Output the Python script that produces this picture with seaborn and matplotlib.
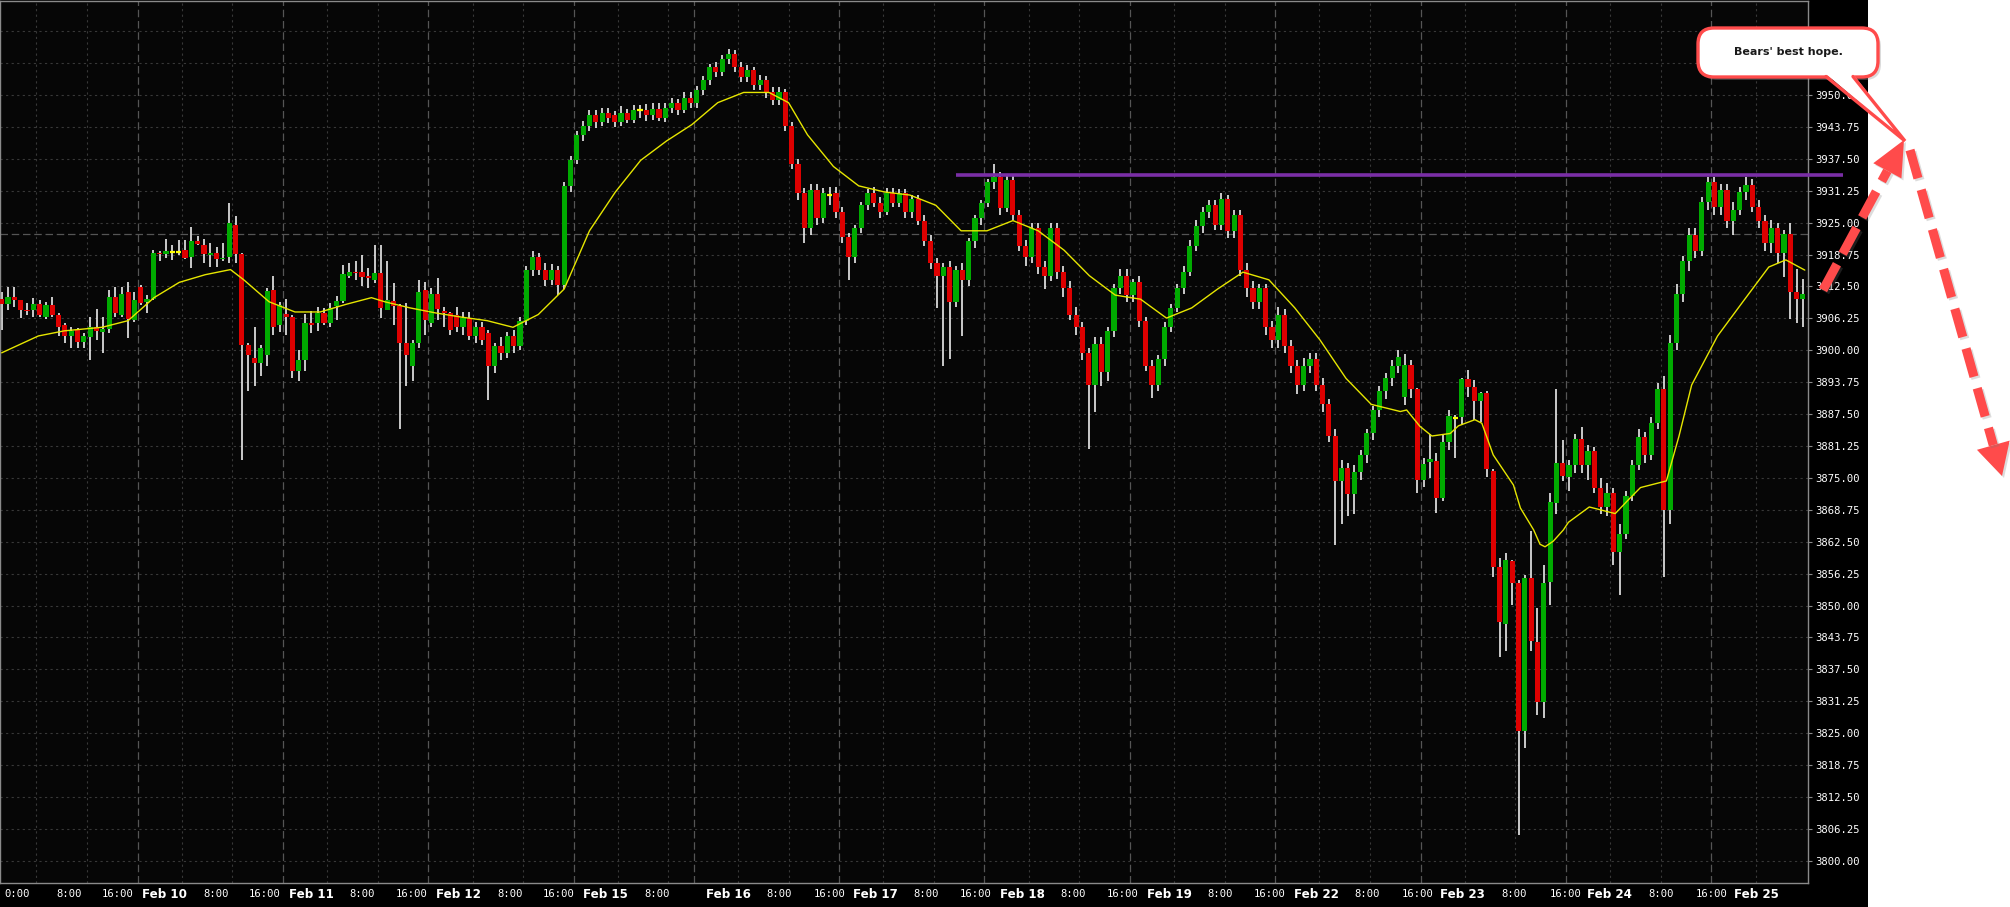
import numpy as np
import pandas as pd
import seaborn as sns
import matplotlib.pyplot as plt
from matplotlib.patches import FancyBboxPatch, Polygon, Rectangle

W, H = 2010, 907
PX = 6.32   # pixels per bar
X0 = 1.7    # pixel centre of bar 0

# ---- hourly candles: (open, high, low, close) ----------------------------
# bars 0-71
seg_a = [
    (3910.05, 3911.5, 3904.0, 3909.14), (3909.14, 3912.3, 3907.9, 3910.45), (3910.4, 3912.3, 3908.55, 3909.9),
    (3909.86, 3909.9, 3906.3, 3907.9), (3907.9, 3909.2, 3906.9, 3907.6), (3907.9, 3910.3, 3906.6, 3909.1),
    (3909.1, 3909.9, 3906.6, 3906.9), (3906.6, 3909.5, 3906.1, 3908.9), (3908.9, 3910.4, 3906.6, 3906.9),
    (3906.85, 3907.25, 3902.7, 3904.5), (3904.9, 3905.3, 3901.4, 3902.7), (3902.7, 3904.6, 3900.4, 3903.8),
    (3904.0, 3904.3, 3900.4, 3901.7), (3901.7, 3903.3, 3900.4, 3902.7), (3902.6, 3906.5, 3898.0, 3904.5),
    (3904.5, 3908.0, 3902.0, 3903.85), (3903.65, 3906.6, 3899.5, 3904.2), (3904.1, 3911.8, 3903.3, 3910.45),
    (3910.4, 3912.3, 3906.6, 3907.25), (3906.9, 3912.3, 3906.6, 3911.05), (3911.4, 3913.45, 3902.35, 3906.1),
    (3905.9, 3911.5, 3905.5, 3909.86), (3912.3, 3912.8, 3908.9, 3909.2), (3909.5, 3910.8, 3907.25, 3910.05),
    (3910.05, 3919.65, 3909.86, 3919.0), (3919.1, 3919.5, 3917.4, 3918.8), (3918.9, 3921.7, 3918.0, 3919.45),
    (3919.3, 3920.6, 3917.7, 3919.3), (3919.3, 3921.5, 3918.7, 3919.3), (3919.65, 3921.6, 3917.8, 3918.15),
    (3918.35, 3924.2, 3916.1, 3921.4), (3921.4, 3922.4, 3920.6, 3920.9), (3920.6, 3921.7, 3917.0, 3918.9),
    (3918.7, 3921.0, 3916.4, 3919.1), (3919.1, 3920.3, 3916.4, 3917.9), (3917.8, 3921.0, 3917.4, 3918.15),
    (3918.35, 3928.8, 3917.0, 3925.0), (3924.55, 3926.2, 3917.0, 3918.9), (3918.9, 3919.0, 3878.5, 3901.0),
    (3901.0, 3901.5, 3892.0, 3899.0), (3898.5, 3904.6, 3893.0, 3897.5), (3897.5, 3901.0, 3895.0, 3900.4),
    (3899.0, 3912.2, 3897.0, 3911.7), (3911.8, 3914.6, 3903.0, 3904.6), (3905.0, 3909.5, 3903.5, 3908.9),
    (3907.1, 3910.1, 3903.0, 3906.5), (3906.5, 3907.0, 3894.5, 3896.0), (3896.0, 3900.0, 3894.0, 3898.0),
    (3898.0, 3907.05, 3896.0, 3905.3), (3905.4, 3907.6, 3903.3, 3905.0), (3905.3, 3908.4, 3903.7, 3907.25),
    (3907.25, 3908.3, 3905.0, 3905.4), (3905.4, 3909.2, 3904.5, 3908.35), (3908.7, 3910.6, 3905.9, 3909.66),
    (3909.7, 3916.7, 3909.2, 3914.95), (3914.6, 3917.0, 3914.1, 3915.4), (3915.4, 3917.4, 3913.8, 3915.1),
    (3915.3, 3918.7, 3912.5, 3914.4), (3914.5, 3916.1, 3912.1, 3914.2), (3913.8, 3920.6, 3913.1, 3915.2),
    (3915.2, 3920.6, 3906.3, 3908.2), (3907.9, 3917.4, 3907.9, 3909.86), (3909.66, 3913.1, 3905.0, 3908.7),
    (3908.7, 3909.0, 3884.5, 3901.5), (3901.5, 3909.2, 3893.0, 3899.0), (3897.0, 3902.0, 3894.0, 3901.4),
    (3901.5, 3913.8, 3900.5, 3911.4), (3911.8, 3913.4, 3903.0, 3905.9), (3905.3, 3912.1, 3904.6, 3910.96),
    (3910.96, 3914.1, 3906.0, 3908.0), (3907.6, 3908.4, 3904.6, 3907.25), (3907.25, 3907.5, 3903.0, 3904.0),
]
# bars 72-221
seg_b = [
    (3907.0, 3908.5, 3903.5, 3904.5), (3904.5, 3907.5, 3903.0, 3906.3), (3906.3, 3907.5, 3902.0, 3902.8),
    (3902.8, 3905.5, 3901.5, 3904.5), (3904.5, 3905.5, 3901.0, 3902.0), (3903.3, 3904.0, 3890.2, 3897.0),
    (3897.0, 3901.5, 3895.5, 3900.8), (3900.8, 3902.5, 3898.0, 3899.5), (3899.5, 3903.5, 3898.5, 3902.8),
    (3902.8, 3904.0, 3899.5, 3900.8), (3900.8, 3906.5, 3900.0, 3905.8), (3905.8, 3916.5, 3905.0, 3915.8),
    (3915.8, 3919.5, 3914.5, 3918.3), (3918.3, 3919.0, 3914.8, 3915.8), (3915.8, 3917.0, 3912.5, 3913.8),
    (3913.8, 3916.8, 3912.8, 3915.8), (3915.8, 3916.5, 3910.8, 3912.8), (3912.8, 3933.0, 3912.0, 3932.2),
    (3932.2, 3938.0, 3931.0, 3937.2), (3937.2, 3943.0, 3936.5, 3942.2), (3942.2, 3945.0, 3941.0, 3944.0),
    (3944.0, 3947.0, 3943.0, 3946.0), (3946.0, 3947.0, 3943.5, 3944.7), (3944.7, 3947.5, 3944.0, 3946.5),
    (3946.5, 3947.5, 3944.5, 3945.5), (3946.0, 3946.8, 3943.8, 3944.7), (3944.7, 3947.8, 3944.0, 3946.5),
    (3946.5, 3947.3, 3944.5, 3945.2), (3945.2, 3948.0, 3944.5, 3947.0), (3947.0, 3948.0, 3945.5, 3947.0),
    (3947.0, 3948.2, 3945.0, 3946.0), (3946.0, 3948.5, 3945.2, 3947.2), (3947.2, 3948.5, 3945.0, 3945.5),
    (3945.5, 3948.5, 3944.8, 3947.5), (3947.5, 3949.5, 3946.5, 3948.5), (3948.5, 3949.3, 3946.0, 3947.0),
    (3947.0, 3950.5, 3946.5, 3949.5), (3949.5, 3950.5, 3947.5, 3948.5), (3948.5, 3951.8, 3947.5, 3951.0),
    (3951.0, 3953.8, 3950.0, 3953.0), (3953.0, 3956.0, 3952.0, 3955.5), (3955.5, 3956.5, 3953.5, 3954.5),
    (3954.5, 3957.8, 3953.8, 3957.0), (3957.0, 3959.0, 3956.0, 3958.0), (3958.0, 3958.8, 3954.5, 3955.5),
    (3955.5, 3956.5, 3952.5, 3953.5), (3953.5, 3955.8, 3952.5, 3954.8), (3954.8, 3955.5, 3951.0, 3952.0),
    (3952.0, 3954.0, 3951.0, 3953.0), (3953.0, 3953.8, 3949.5, 3950.5), (3950.5, 3951.5, 3948.0, 3949.0),
    (3949.0, 3951.5, 3948.0, 3950.5), (3950.5, 3951.2, 3943.0, 3944.0), (3944.0, 3944.8, 3935.5, 3936.4),
    (3936.4, 3937.5, 3929.5, 3930.9), (3930.9, 3931.8, 3921.0, 3923.9), (3923.9, 3932.5, 3922.5, 3931.4),
    (3931.4, 3932.5, 3924.5, 3925.9), (3925.9, 3931.8, 3925.0, 3930.9), (3930.4, 3932.0, 3928.5, 3930.4),
    (3930.9, 3932.0, 3926.0, 3927.1), (3927.1, 3928.0, 3921.0, 3922.1), (3922.1, 3923.0, 3913.8, 3918.3),
    (3918.3, 3924.5, 3917.0, 3923.9), (3923.9, 3929.0, 3923.0, 3928.4), (3928.4, 3931.5, 3927.5, 3930.9),
    (3930.9, 3932.0, 3928.0, 3928.9), (3928.9, 3930.0, 3926.0, 3927.1), (3927.1, 3931.8, 3926.5, 3930.9),
    (3930.9, 3931.8, 3928.0, 3928.9), (3928.9, 3931.5, 3928.0, 3930.9), (3930.9, 3931.5, 3926.0, 3927.1),
    (3927.1, 3930.5, 3926.0, 3929.6), (3929.6, 3930.5, 3924.5, 3925.4), (3925.4, 3926.5, 3920.5, 3921.4),
    (3921.4, 3922.5, 3916.0, 3917.1), (3917.1, 3918.0, 3908.3, 3914.6), (3914.6, 3917.0, 3897.0, 3916.3),
    (3916.3, 3917.5, 3898.2, 3909.5), (3909.5, 3916.5, 3908.5, 3915.8), (3915.8, 3917.0, 3902.8, 3913.8),
    (3913.8, 3922.0, 3912.5, 3921.4), (3921.4, 3926.5, 3920.0, 3925.9), (3925.9, 3929.5, 3924.5, 3928.9),
    (3928.9, 3933.5, 3928.0, 3932.9), (3932.9, 3936.4, 3931.5, 3933.9), (3933.9, 3935.0, 3926.5, 3927.9),
    (3927.9, 3934.5, 3927.0, 3933.4), (3933.4, 3934.5, 3925.5, 3926.4), (3926.4, 3927.5, 3919.5, 3920.4),
    (3920.4, 3921.5, 3916.5, 3918.3), (3918.3, 3925.0, 3917.0, 3923.9), (3923.9, 3925.0, 3915.0, 3916.3),
    (3916.3, 3917.5, 3912.0, 3914.6), (3914.6, 3925.0, 3913.5, 3923.9), (3923.9, 3925.0, 3914.0, 3915.3),
    (3915.3, 3916.5, 3910.5, 3912.1), (3912.1, 3913.5, 3906.0, 3907.0), (3907.0, 3908.5, 3903.0, 3904.5),
    (3904.5, 3905.5, 3898.0, 3899.5), (3899.5, 3900.5, 3880.7, 3893.2), (3893.2, 3902.5, 3888.0, 3901.3),
    (3901.3, 3902.5, 3893.0, 3895.7), (3895.7, 3904.5, 3894.0, 3903.8), (3903.8, 3913.0, 3902.5, 3912.1),
    (3912.1, 3916.0, 3911.0, 3914.6), (3914.6, 3916.0, 3909.5, 3910.8), (3910.8, 3914.0, 3909.5, 3913.3),
    (3913.3, 3914.5, 3904.5, 3905.8), (3905.8, 3906.5, 3896.0, 3897.0), (3897.0, 3898.0, 3890.7, 3893.2),
    (3893.2, 3899.0, 3892.0, 3898.2), (3898.2, 3905.5, 3897.0, 3904.5), (3904.5, 3909.0, 3903.5, 3908.3),
    (3908.3, 3913.0, 3907.5, 3912.1), (3912.1, 3916.5, 3911.0, 3915.3), (3915.3, 3921.5, 3914.5, 3920.4),
    (3920.4, 3925.5, 3919.5, 3924.4), (3924.4, 3928.0, 3923.0, 3927.1), (3927.1, 3929.5, 3926.0, 3928.4),
    (3928.4, 3929.5, 3923.5, 3924.6), (3924.6, 3930.9, 3923.5, 3929.6), (3929.6, 3930.5, 3922.0, 3923.4),
    (3923.4, 3927.5, 3922.0, 3926.4), (3926.4, 3927.5, 3914.5, 3915.8), (3915.8, 3917.0, 3910.5, 3912.1),
    (3912.1, 3913.5, 3908.0, 3909.5), (3909.5, 3913.0, 3908.0, 3912.1), (3912.1, 3913.0, 3903.0, 3904.5),
    (3904.5, 3905.8, 3900.5, 3902.0), (3902.0, 3908.5, 3900.5, 3907.0), (3907.0, 3908.0, 3899.5, 3900.8),
    (3900.8, 3902.0, 3895.5, 3897.0), (3897.0, 3898.0, 3891.5, 3893.2), (3893.2, 3898.5, 3892.0, 3897.0),
    (3897.0, 3899.5, 3895.5, 3898.2), (3898.2, 3899.5, 3892.0, 3893.2), (3893.2, 3894.5, 3888.0, 3889.4),
    (3889.4, 3890.5, 3882.0, 3883.2), (3883.2, 3884.5, 3861.8, 3874.4), (3874.4, 3878.5, 3866.0, 3876.9),
    (3876.9, 3878.0, 3867.5, 3871.9), (3871.9, 3877.5, 3868.0, 3876.1), (3876.1, 3880.5, 3874.5, 3879.4),
    (3879.4, 3884.5, 3878.0, 3883.7), (3883.7, 3889.0, 3882.5, 3888.2), (3888.2, 3893.0, 3887.0, 3892.0),
    (3892.0, 3895.5, 3890.5, 3894.5), (3894.5, 3898.0, 3893.0, 3897.0), (3897.0, 3900.0, 3895.5, 3898.7),
]
# bars 222-247
seg_c = [
    (3890.9, 3899.3, 3889.3, 3897.1), (3897.1, 3898.1, 3890.6, 3892.4), (3892.4, 3892.7, 3872.0, 3874.6),
    (3874.6, 3878.9, 3873.3, 3877.75), (3878.2, 3883.6, 3875.0, 3878.7), (3878.3, 3879.8, 3868.2, 3871.15),
    (3871.15, 3883.6, 3870.4, 3882.1), (3882.1, 3888.3, 3880.5, 3887.1), (3886.8, 3887.3, 3878.9, 3886.8),
    (3887.0, 3894.5, 3885.4, 3894.4), (3894.4, 3896.2, 3890.9, 3892.8), (3892.8, 3894.2, 3886.4, 3890.0),
    (3890.0, 3891.9, 3886.0, 3891.7), (3891.7, 3892.1, 3875.1, 3876.7), (3876.4, 3876.7, 3855.5, 3857.6),
    (3857.6, 3859.3, 3840.0, 3846.7), (3846.4, 3860.2, 3841.0, 3858.9), (3858.8, 3858.9, 3850.1, 3854.4),
    (3854.4, 3855.0, 3805.0, 3825.4), (3825.4, 3856.0, 3822.0, 3855.4), (3855.4, 3864.5, 3841.0, 3843.0),
    (3842.8, 3849.5, 3828.5, 3831.0), (3831.0, 3858.0, 3828.0, 3854.5), (3854.7, 3872.0, 3850.1, 3870.2),
    (3870.0, 3892.4, 3868.0, 3878.0), (3878.0, 3882.4, 3874.3, 3875.4),
]
# bars 248-280
seg_d = [
    (3875.1, 3878.5, 3872.5, 3877.6), (3877.6, 3883.5, 3876.0, 3882.7), (3882.7, 3885.0, 3876.0, 3877.6),
    (3877.6, 3881.5, 3874.5, 3880.2), (3880.2, 3881.0, 3872.0, 3873.1), (3873.1, 3875.0, 3868.0, 3869.3),
    (3869.3, 3874.0, 3867.5, 3872.0), (3872.0, 3873.0, 3858.0, 3860.5), (3860.5, 3866.0, 3852.0, 3864.0),
    (3864.0, 3872.5, 3863.0, 3871.5), (3871.5, 3878.5, 3870.5, 3877.6), (3877.6, 3884.5, 3876.5, 3883.0),
    (3883.0, 3884.0, 3878.0, 3879.4), (3879.4, 3887.0, 3878.5, 3885.8), (3885.8, 3893.5, 3884.5, 3892.5),
    (3892.5, 3895.0, 3855.5, 3868.8), (3868.8, 3903.0, 3866.0, 3901.5), (3901.5, 3913.0, 3900.0, 3911.0),
    (3911.0, 3918.5, 3909.5, 3917.5), (3917.5, 3924.0, 3915.5, 3922.5), (3922.5, 3924.0, 3918.0, 3919.5),
    (3919.5, 3930.0, 3918.5, 3929.0), (3929.0, 3934.0, 3927.5, 3932.9), (3932.9, 3933.9, 3926.5, 3928.0),
    (3928.0, 3932.5, 3926.5, 3931.4), (3931.4, 3932.5, 3924.0, 3925.4), (3925.4, 3929.0, 3922.5, 3927.5),
    (3927.5, 3932.0, 3926.5, 3931.0), (3931.0, 3933.9, 3929.5, 3932.4), (3932.4, 3933.5, 3927.0, 3928.0),
    (3928.0, 3929.5, 3924.0, 3925.4), (3925.4, 3926.5, 3919.5, 3921.0), (3921.0, 3925.5, 3919.0, 3924.0),
]
# bars 281-285
seg_e = [
    (3924.0, 3925.0, 3917.0, 3919.0), (3919.0, 3923.5, 3914.4, 3922.7), (3922.7, 3924.9, 3906.2, 3911.5),
    (3911.5, 3916.0, 3905.4, 3910.0), (3910.0, 3914.0, 3904.5, 3911.1),
]

bars = pd.DataFrame(seg_a + seg_b + seg_c + seg_d + seg_e, columns=["open", "high", "low", "close"])
bars["x"] = np.arange(len(bars))

# moving-average line (bar, price)
ma_bar = [0, 5.8, 9.9, 15.9, 20.0, 24.1, 28.1, 32.2, 36.2, 38.3, 42.3, 46.4, 50.4, 54.5, 58.5, 60.6, 64.6,
          68.7, 72.7, 76.8, 80.9, 84.9, 89.0, 93.0, 97.1, 101.1, 105.2, 109.2, 113.3, 117.4, 121.4, 124.5,
          127.5, 131.6, 135.6, 139.7, 143.7, 147.8, 151.8, 155.9, 160.0, 164.0, 168.1, 172.1, 176.2, 180.2,
          184.3, 188.3, 192.4, 196.4, 200.5, 204.6, 208.6, 212.7, 216.7, 221.3, 222.3, 224.4, 226.3, 229.2,
          230.5, 233.1, 234.2, 236.0, 239.2, 240.3, 242.4, 243.4, 244.2, 245.5, 247.1, 247.9, 251.2, 255.3,
          257.3, 259.3, 263.4, 265.4, 267.4, 271.5, 275.5, 279.6, 282.3, 285.3]
ma_price = [3899.5, 3902.8, 3903.8, 3904.5, 3905.8, 3910.3, 3913.3, 3914.8, 3915.8, 3913.8, 3909.5, 3907.5,
            3907.5, 3909.0, 3910.3, 3909.5, 3908.3, 3907.3, 3906.5, 3905.8, 3904.5, 3907.0, 3912.0, 3923.4,
            3931.0, 3937.2, 3941.0, 3944.2, 3948.5, 3950.5, 3950.5, 3948.5, 3942.2, 3936.0, 3932.2, 3931.0,
            3930.4, 3928.4, 3923.4, 3923.4, 3925.4, 3923.4, 3919.6, 3914.6, 3910.8, 3910.0, 3906.3, 3908.3,
            3912.0, 3915.3, 3913.8, 3908.3, 3902.0, 3894.5, 3889.4, 3888.0, 3888.3, 3885.1, 3883.2, 3883.7,
            3885.2, 3886.4, 3885.7, 3879.5, 3873.6, 3869.1, 3864.8, 3862.0, 3861.5, 3862.6, 3864.8, 3866.3,
            3869.3, 3868.0, 3870.6, 3873.1, 3874.4, 3883.2, 3893.2, 3902.8, 3909.5, 3916.3, 3917.7, 3915.7]

resistance = 3934.3
resistance_from = 151
ref_level = 3922.8

# time axis
label_px = [17, 69, 118, 164, 216, 265, 311, 362, 412, 458, 510, 559, 605, 657, 728, 779, 830, 875, 926, 976,
            1022, 1073, 1123, 1169, 1220, 1270, 1316, 1367, 1418, 1462, 1514, 1566, 1609, 1661, 1712, 1756]
label_txt = ["0:00", "8:00", "16:00", "Feb 10", "8:00", "16:00", "Feb 11", "8:00", "16:00", "Feb 12", "8:00",
             "16:00", "Feb 15", "8:00", "Feb 16", "8:00", "16:00", "Feb 17", "8:00", "16:00", "Feb 18", "8:00",
             "16:00", "Feb 19", "8:00", "16:00", "Feb 22", "8:00", "16:00", "Feb 23", "8:00", "16:00", "Feb 24",
             "8:00", "16:00", "Feb 25"]
day_lines = [21.5, 44.5, 67.5, 90.5, 109.5, 132.5, 155.5, 178.5, 201.5, 224.5, 247.5, 270.5]
hour_lines = [5.5, 13.5, 28.5, 36.5, 51.5, 59.5, 74.5, 82.5, 97.5, 105.5, 116.5, 124.5, 139.5, 147.5,
              162.5, 170.5, 185.5, 193.5, 208.5, 216.5, 231.5, 239.5, 254.5, 262.5, 277.5]

# ---- drawing -------------------------------------------------------------
sns.set_style("dark")
plt.rcParams['font.family'] = ['DejaVu Sans']

fig = plt.figure(figsize=(W / 100, H / 100), dpi=100, facecolor="white")
fig.patches.append(Rectangle((0, 0), 1868 / W, 1, transform=fig.transFigure,
                             facecolor="black", edgecolor="none", zorder=-5))
ax = fig.add_axes([0, 24 / H, 1808 / W, 882 / H])
ax.set_facecolor("#060606")

ax.set_xlim((0 - X0) / PX, (1808 - X0) / PX)
ax.set_ylim(3950 - (883 - 95) / 5.105, 3950 + 94 / 5.105)

# grid
ticks = np.arange(3800, 3962.6, 6.25)
for v in ticks:
    ax.axhline(v, color="#383838", lw=0.8, ls=(0, (2, 3)), zorder=1)
for v in hour_lines:
    ax.axvline(v, color="#383838", lw=0.8, ls=(0, (2, 3)), zorder=1)
for v in day_lines:
    ax.axvline(v, color="#555555", lw=0.9, ls=(0, (6, 3)), zorder=1)
ax.axhline(ref_level, color="#555555", lw=0.9, ls=(0, (6, 3)), zorder=1)

# candles
up = bars["close"] >= bars["open"]
doji = (bars["close"] - bars["open"]).abs() < 0.15
ax.vlines(bars["x"], bars["low"], bars["high"], color="white", lw=1.1, zorder=2)
body_lo = bars[["open", "close"]].min(axis=1)
body_h = (bars["close"] - bars["open"]).abs()
ax.bar(bars["x"], body_h, bottom=body_lo, width=0.82,
       color=np.where(up, "#00aa00", "#dd0000"), linewidth=0, zorder=3)
ax.hlines(bars.loc[doji, "close"], bars.loc[doji, "x"] - 0.41, bars.loc[doji, "x"] + 0.41,
          color="#ffff00", lw=1.6, zorder=4)

sns.lineplot(x=ma_bar, y=ma_price, ax=ax, color="#e6e600", lw=1.0, sort=False,
             estimator=None, zorder=5)

ax.plot([resistance_from, (1843 - X0) / PX], [resistance, resistance], color="#7a2ea6",
        lw=2.6, solid_capstyle="butt", clip_on=False, zorder=6)

# axes cosmetics
for s in ax.spines.values():
    s.set_color("#8a8a8a")
    s.set_linewidth(1.0)
ax.yaxis.tick_right()
ax.set_yticks(ticks)
ax.set_yticklabels([f"{v:.2f}" for v in ticks])
ax.tick_params(axis="y", colors="#8a8a8a", labelcolor="white", labelsize=7.6, length=3, pad=2,
               direction="out", labelfontfamily="DejaVu Sans Mono")
ax.set_xticks(sorted(day_lines + hour_lines))
ax.set_xticklabels([])
ax.tick_params(axis="x", colors="#8a8a8a", length=5, direction="in", width=0.8)
ax.set_xlabel("")
ax.set_ylabel("")
ax.grid(False)

xt = ax.get_xaxis_transform()
for px, t in zip(label_px, label_txt):
    if t.startswith("Feb"):
        ax.text((px - X0) / PX, -0.0125, t, transform=xt, ha="center", va="center", color="white",
                fontsize=8.6, fontweight="bold", family="DejaVu Sans", clip_on=False)
    else:
        ax.text((px - X0) / PX, -0.0125, t, transform=xt, ha="center", va="center", color="white",
                fontsize=7.6, family="DejaVu Sans Mono", clip_on=False)

# ---- callout and arrows (figure pixels) -----------------------------------
ov = fig.add_axes([0, 0, 1, 1], zorder=10)
ov.set_xlim(0, W)
ov.set_ylim(H, 0)
ov.axis("off")
red = "#ff4b4b"

ov.add_patch(FancyBboxPatch((1701, 31), 180, 49, boxstyle="round,pad=0,rounding_size=16",
                            fc="#999999", ec="none", alpha=0.35))
ov.add_patch(FancyBboxPatch((1698, 28), 180, 49, boxstyle="round,pad=0,rounding_size=16",
                            fc="white", ec=red, lw=2.4))
ov.add_patch(Polygon([(1826, 74), (1853, 74), (1905, 141)], closed=True, fc="white", ec="none"))
ov.plot([1826, 1905, 1853], [76.5, 141, 76.5], color=red, lw=2.4, solid_joinstyle="miter")
ov.text(1788, 52, "Bears' best hope.", ha="center", va="center", fontsize=8,
        fontweight="bold", color="#1a1a1a")


def dashed_arrow(start, tip, head_len, half_w):
    sx, sy = start
    tx, ty = tip
    d = np.array([tx - sx, ty - sy], float)
    d /= np.hypot(*d)
    perp = np.array([d[1], -d[0]])
    base = np.array(tip) - head_len * d
    for off, col, a in [((2, 2), "#777777", 0.25), ((0, 0), red, 1.0)]:
        ov.plot([sx + off[0], base[0] + off[0]], [sy + off[1], base[1] + off[1]], color=col, alpha=a,
                lw=6.6, ls=(0, (3.2, 1.3)), dash_capstyle="butt")
        pts = [tuple(base + half_w * perp + off), (tx + off[0], ty + off[1]), tuple(base - half_w * perp + off)]
        ov.add_patch(Polygon(pts, closed=True, fc=col, ec="none", alpha=a))


dashed_arrow((1823, 290), (1904, 140), 35, 16)
dashed_arrow((1910, 150), (2002, 476), 32, 17)

fig.savefig("out.png", dpi=100, facecolor=fig.get_facecolor())
